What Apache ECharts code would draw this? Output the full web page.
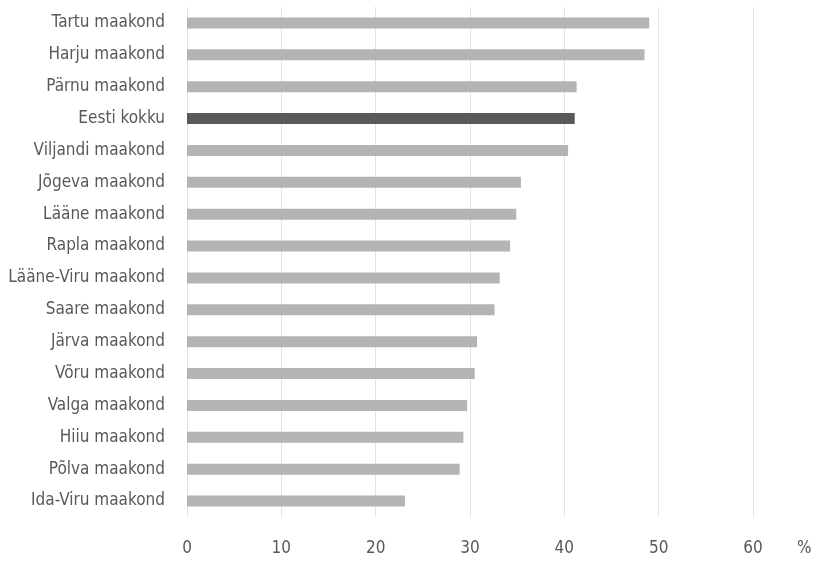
<!DOCTYPE html>
<html>
<head>
<meta charset="utf-8">
<script src="https://cdn.jsdelivr.net/npm/echarts@6/dist/echarts.min.js"></script>
<style>html,body{margin:0;padding:0;background:#fff;}#c{width:815px;height:561px;}</style>
</head>
<body>
<div id="c"></div>
<script>
const categories = ["Tartu maakond","Harju maakond","Pärnu maakond","Eesti kokku","Viljandi maakond","Jõgeva maakond","Lääne maakond","Rapla maakond","Lääne-Viru maakond","Saare maakond","Järva maakond","Võru maakond","Valga maakond","Hiiu maakond","Põlva maakond","Ida-Viru maakond"];
const values = [49.0, 48.5, 41.3, 41.1, 40.4, 35.4, 34.9, 34.25, 33.15, 32.6, 30.75, 30.5, 29.7, 29.3, 28.9, 23.1];
const highlight = "Eesti kokku";
const xTicks = [0, 10, 20, 30, 40, 50, 60];

const font = '"Liberation Sans Narrow", "DejaVu Sans Condensed", sans-serif';
const chart = echarts.init(document.getElementById('c'));
chart.setOption({
  animation: false,
  backgroundColor: '#fff',
  grid: { left: 187, right: 62, top: 7, bottom: 44, containLabel: false },
  xAxis: {
    type: 'value', min: xTicks[0], max: xTicks[xTicks.length - 1], interval: 10,
    name: '%', nameLocation: 'end', nameGap: 44,
    nameTextStyle: { color: '#595959', fontSize: 17, fontFamily: font, verticalAlign: 'top', padding: [23, 0, 0, 0] },
    axisLine: { show: false }, axisTick: { show: false },
    axisLabel: { color: '#595959', fontSize: 17, fontFamily: font, margin: 23 },
    splitLine: { show: true, lineStyle: { color: '#e2e2e2', width: 1 } }
  },
  yAxis: {
    type: 'category', data: categories, inverse: true,
    axisLine: { show: false }, axisTick: { show: false },
    axisLabel: { color: '#595959', fontSize: 17, fontFamily: font, margin: 22 }
  },
  series: [{
    type: 'bar', barWidth: 11,
    data: values.map((v, i) => ({ value: v, itemStyle: { color: categories[i] === highlight ? '#595959' : '#b4b4b4' } }))
  }]
});
</script>
</body>
</html>
